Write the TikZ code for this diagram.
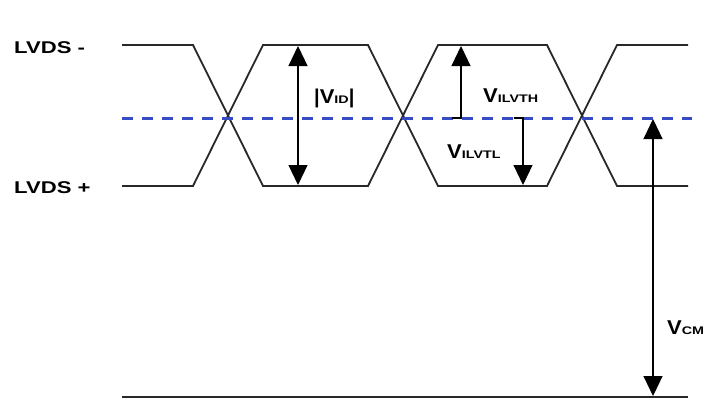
\documentclass[tikz,border=0pt]{standalone}
\usepackage{graphicx}
\usepackage{fontspec}
\setmainfont{Liberation Sans}
\usetikzlibrary{arrows.meta}
\definecolor{sig}{RGB}{40,40,40}
\definecolor{dash}{RGB}{55,75,195}
\newcommand\bigVV{{\fontsize{20}{20}\selectfont\scalebox{1.1}[1]{V}}}
\newcommand\sbtx[1]{{\fontsize{11}{11}\selectfont\scalebox{1.3}[1]{#1}}}
\newcommand\lvds[1]{{\fontsize{17}{17}\selectfont\scalebox{1.3}[1]{#1}}}
\begin{document}
\begin{tikzpicture}[x=1pt,y=-1pt,
  signal/.style={draw=sig,line width=1.8pt,line join=miter},
  refline/.style={draw=dash,line width=3pt,dash pattern=on 11pt off 9pt},
  dim/.style={draw=black,line width=1.1pt,-{Triangle[width=19pt,length=20pt]}},
  dimboth/.style={draw=black,line width=1.1pt,{Triangle[width=19pt,length=20pt]}-{Triangle[width=19pt,length=20pt]}},
  lbl/.style={font=\bfseries,text=black,inner sep=0pt,anchor=base west}]
\useasboundingbox (0,0) rectangle (708,399);
\fill[white] (0,0) rectangle (708,399);
% signals
\draw[signal] (122,45) -- (193,45) -- (263,186) -- (368,186) -- (438,45) -- (547,45) -- (617,186) -- (688,186);
\draw[signal] (122,186) -- (193,186) -- (263,45) -- (368,45) -- (438,186) -- (547,186) -- (617,45) -- (688,45);
\draw[signal,line width=1.4pt] (122,397) -- (688,397);
% reference
\draw[refline] (122,118) -- (692,118);
% coordinates
\coordinate (idT) at (298,46);
\coordinate (idB) at (298,185);
\coordinate (thE) at (452,118);
\coordinate (thB) at (461,118);
\coordinate (thT) at (461,46);
\coordinate (tlE) at (514,118);
\coordinate (tlT) at (523,118);
\coordinate (tlB) at (523,185);
\coordinate (cmT) at (653,119);
\coordinate (cmB) at (653,396);
\draw[dimboth] (idT) -- (idB);
\draw[dim] (thE) -- (thB) -- (thT);
\draw[dim] (tlE) -- (tlT) -- (tlB);
\draw[dimboth] (cmT) -- (cmB);
% labels
\node[lbl] (lm) at (14,53) {\lvds{LVDS -}};
\node[lbl] (lp) at (14,193) {\lvds{LVDS +}};
\node[lbl] (vid) at (314,103) {{\fontsize{20}{20}\selectfont|}\bigVV\sbtx{ID}{\fontsize{20}{20}\selectfont|}};
\node[lbl] (vth) at (483,102) {\bigVV\sbtx{ILVTH}};
\node[lbl] (vtl) at (447,158) {\bigVV\sbtx{ILVTL}};
\node[lbl] (vcm) at (667,334) {\bigVV\sbtx{CM}};
\end{tikzpicture}
\end{document}
